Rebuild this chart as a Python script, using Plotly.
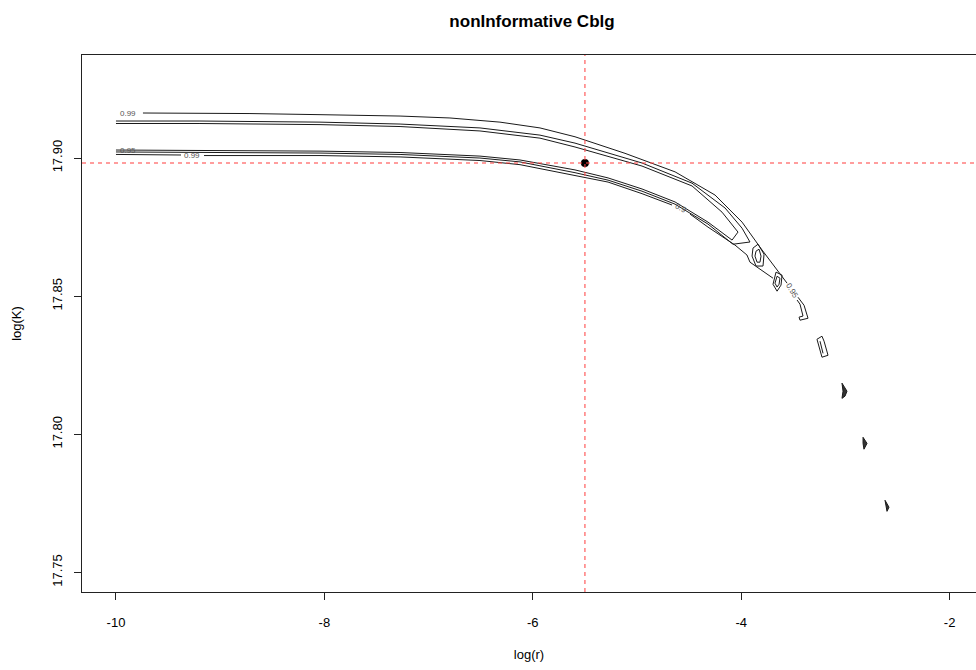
import plotly.graph_objects as go

# ---- data (log r, log K) ----
# upper outer contour (0.99)
a_x = [-9.741, -8.714, -8.042, -7.274, -6.795, -6.315, -5.931, -5.595, -5.115, -4.827, -4.635, -4.251, -3.992, -3.800, -3.656, -3.560,
       None, -3.455, -3.397, -3.359, -3.436, -3.445, -3.407, -3.436, -3.464]
a_y = [17.9163, 17.9161, 17.9157, 17.9152, 17.9145, 17.9130, 17.9109, 17.9077, 17.9017, 17.8977, 17.8950, 17.8866, 17.8768, 17.8667, 17.8594, 17.8547,
       None, 17.8496, 17.8467, 17.8420, 17.8413, 17.8424, 17.8428, 17.8471, 17.8486]
# upper middle pair
b1_x = [-10.0, -9.194, -8.042, -7.274, -6.507, -5.931, -5.595, -4.952, -4.472, -4.155, -3.992, -3.916, -4.079]
b1_y = [17.9134, 17.9134, 17.9130, 17.9123, 17.9109, 17.9083, 17.9054, 17.8982, 17.8909, 17.8819, 17.8746, 17.8696, 17.8688]
b2_x = [-10.0, -9.194, -8.042, -7.274, -6.507, -5.931, -5.595, -4.952, -4.472, -4.184, -4.031, -4.088]
b2_y = [17.9125, 17.9125, 17.9121, 17.9114, 17.9098, 17.9072, 17.9040, 17.8971, 17.8899, 17.8804, 17.8732, 17.8703]
# lower group
c1_x = [-10.0, -9.194, -8.042, -7.274, -6.507, -6.123, -5.595, -5.278, -4.952, -4.635, -4.319, -4.088]
c1_y = [17.9029, 17.9027, 17.9025, 17.9020, 17.9007, 17.8993, 17.8957, 17.8928, 17.8888, 17.8841, 17.8768, 17.8703]
c2_x = [-10.0, -9.194, -8.042, -7.274, -6.507, -6.123, -5.595, -5.278, -4.952, -4.635, -4.319, -4.079]
c2_y = [17.9022, 17.9020, 17.9018, 17.9013, 17.9000, 17.8986, 17.8947, 17.8920, 17.8880, 17.8833, 17.8761, 17.8688]
d_x = [-10.0, -9.376, None, -9.155, -8.042, -7.274, -6.507, -6.123, -5.595, -5.278, -4.952, -4.664, None, -4.491, -4.319, -4.060, -3.945, -3.916, -3.848, -3.695]
d_y = [17.9013, 17.9011, None, 17.9009, 17.9009, 17.9004, 17.8991, 17.8976, 17.8938, 17.8913, 17.8871, 17.8830, None, 17.8797, 17.8750, 17.8685, 17.8649, 17.8623, 17.8605, 17.8565]

# isolated closed contours
blob1o_x = [-3.887, -3.839, -3.781, -3.791, -3.858, -3.896, -3.887]
blob1o_y = [17.8674, 17.8688, 17.8652, 17.8609, 17.8609, 17.8645, 17.8674]
blob1i_x = [-3.858, -3.829, -3.810, -3.820, -3.848, -3.868, -3.858]
blob1i_y = [17.8663, 17.8670, 17.8645, 17.8623, 17.8623, 17.8645, 17.8663]
blob2o_x = [-3.666, -3.608, -3.618, -3.656, -3.695, -3.666]
blob2o_y = [17.8587, 17.8576, 17.8540, 17.8518, 17.8543, 17.8587]
blob2i_x = [-3.656, -3.628, -3.637, -3.656, -3.676, -3.656]
blob2i_y = [17.8572, 17.8565, 17.8543, 17.8533, 17.8547, 17.8572]
blob3_x = [-3.273, -3.225, -3.205, -3.167, -3.225, -3.234, -3.263, -3.273, None, -3.244, -3.215]
blob3_y = [17.8344, 17.8355, 17.8337, 17.8286, 17.8279, 17.8293, 17.8333, 17.8344, None, 17.8337, 17.8293]
blob4_x = [-3.033, -2.985, -3.004, -3.033, -3.023, -3.033]
blob4_y = [17.8185, 17.8156, 17.8138, 17.8130, 17.8156, 17.8185]
blob5_x = [-2.831, -2.793, -2.822, -2.831, -2.831]
blob5_y = [17.7989, 17.7967, 17.7946, 17.7967, 17.7989]
blob6_x = [-2.620, -2.582, -2.601, -2.610, -2.620]
blob6_y = [17.7761, 17.7736, 17.7721, 17.7746, 17.7761]

# estimate
est_r = -5.5
est_K = 17.8982

# contour labels
lab_text = ["0.99", "0.95", "0.99", "0.9", "0.95"]
lab_x = [-9.885, -9.885, -9.271, -4.575, -3.515]
lab_y = [17.9163, 17.9029, 17.9011, 17.8818, 17.8520]
lab_ang = [0, 0, 0, 27, 58]

x_ticks = [-10, -8, -6, -4, -2]
y_ticks = [17.75, 17.80, 17.85, 17.90]

fig = go.Figure()
line_style = dict(color="#1a1a1a", width=1)
for xs, ys in [(a_x, a_y), (b1_x, b1_y), (b2_x, b2_y), (c1_x, c1_y), (c2_x, c2_y), (d_x, d_y),
               (blob1o_x, blob1o_y), (blob1i_x, blob1i_y), (blob2o_x, blob2o_y), (blob2i_x, blob2i_y),
               (blob3_x, blob3_y)]:
    fig.add_trace(go.Scatter(x=xs, y=ys, mode="lines", line=line_style, showlegend=False, hoverinfo="skip"))
for xs, ys in [(blob4_x, blob4_y), (blob5_x, blob5_y), (blob6_x, blob6_y)]:
    fig.add_trace(go.Scatter(x=xs, y=ys, mode="lines", line=line_style, fill="toself", fillcolor="#333",
                             showlegend=False, hoverinfo="skip"))

red = "rgba(255,70,70,0.7)"
fig.add_vline(x=est_r, line=dict(color=red, width=1.5, dash="4px,4px"))
fig.add_hline(y=est_K, line=dict(color=red, width=1.5, dash="4px,4px"))
fig.add_trace(go.Scatter(x=[est_r], y=[est_K], mode="markers", marker=dict(color="black", size=8),
                         showlegend=False, hoverinfo="skip"))

for t, x, y, a in zip(lab_text, lab_x, lab_y, lab_ang):
    fig.add_annotation(x=x, y=y, text=t, showarrow=False, textangle=a,
                       font=dict(size=8, color="#555555", family="Liberation Sans, Arial, sans-serif"))

font = "Liberation Sans, Arial, Helvetica, sans-serif"
fig.update_layout(
    width=976, height=670,
    margin=dict(l=82, r=0, t=55, b=78),
    paper_bgcolor="white", plot_bgcolor="white",
    font=dict(family=font, size=13, color="black"),
    title=dict(text="<b>nonInformative Cblg</b>", x=532 / 976, xanchor="center",
               y=1 - 21 / 670, yanchor="middle", font=dict(size=17, family=font)),
    xaxis=dict(range=[-10.326, -1.747], tickvals=x_ticks, ticktext=[str(v) for v in x_ticks],
               showgrid=False, zeroline=False, showline=True, mirror=True, linecolor="#222", linewidth=1,
               ticks="outside", ticklen=7, tickcolor="#222", ticklabelstandoff=11, tickfont=dict(size=13),
               title=dict(text="log(r)", standoff=21, font=dict(size=13))),
    yaxis=dict(range=[17.7429, 17.9373], tickvals=y_ticks, ticktext=["17.75", "17.80", "17.85", "17.90"],
               tickangle=-90, showgrid=False, zeroline=False, showline=True, mirror=False,
               linecolor="#222", linewidth=1, ticks="outside", ticklen=7, tickcolor="#222",
               ticklabelstandoff=7, tickfont=dict(size=13),
               title=dict(text="log(K)", standoff=25, font=dict(size=13))),
)

fig.write_html("out.html")
